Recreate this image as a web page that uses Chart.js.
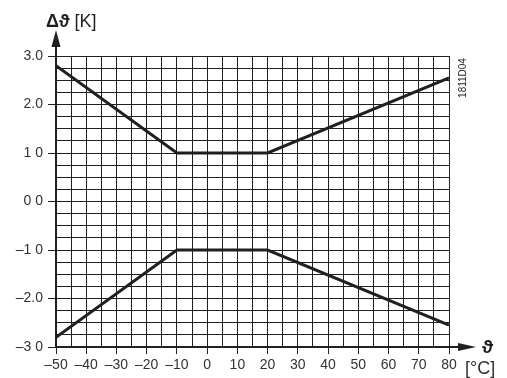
<!DOCTYPE html>
<html><head><meta charset="utf-8">
<script src="https://cdn.jsdelivr.net/npm/chart.js@4"></script>
<style>html,body{margin:0;padding:0;background:#fff;}#wrap{width:507px;height:378px;position:relative;}</style>
</head><body><div id="wrap"><canvas id="c" width="507" height="378"></canvas></div>
<script>
const temps = [-50, -10, 20, 80];
const upperDelta = [2.8, 1.0, 1.0, 2.55];
const lowerDelta = [-2.8, -1.0, -1.0, -2.55];
const xTickValues = [-50, -40, -30, -20, -10, 0, 10, 20, 30, 40, 50, 60, 70, 80];
const xTickLabels = ['\u201350', '\u201340', '\u201330', '\u201320', '\u201310', '0', '10', '20', '30', '40', '50', '60', '70', '80'];
const yTickValues = [3, 2, 1, 0, -1, -2, -3];
const yTickLabels = ['3.0', '2.0', '1 0', '0 0', '\u20131 0', '\u20132.0', '\u20133 0'];

const ink = '#231f20';
const font = "'Liberation Sans', Arial, sans-serif";

function labelFor(vals, labs, v) {
  const i = vals.findIndex(t => Math.abs(t - v) < 1e-6);
  return i < 0 ? '' : labs[i];
}

const decor = {
  id: 'decor',
  afterDraw(chart) {
    const c = chart.ctx, a = chart.chartArea;
    c.save();
    c.fillStyle = ink; c.strokeStyle = ink;
    // y axis arrow
    c.lineWidth = 2;
    c.beginPath(); c.moveTo(a.left, a.top); c.lineTo(a.left, 42); c.stroke();
    c.beginPath(); c.moveTo(a.left, 30); c.lineTo(a.left - 4.5, 47); c.lineTo(a.left + 4.5, 47); c.closePath(); c.fill();
    // x axis arrow
    c.beginPath(); c.moveTo(a.right, a.bottom); c.lineTo(462, a.bottom); c.stroke();
    c.beginPath(); c.moveTo(476, a.bottom); c.lineTo(458, a.bottom - 4); c.lineTo(458, a.bottom + 4); c.closePath(); c.fill();
    // titles
    c.textBaseline = 'alphabetic'; c.textAlign = 'left';
    c.font = 'bold 18px ' + font;
    c.fillText('\u0394\u03d1', 46, 27);
    const w = c.measureText('\u0394\u03d1').width;
    c.font = '18px ' + font;
    c.fillText(' [K]', 46 + w, 27);
    c.font = 'bold 19px ' + font;
    c.fillText('\u03d1', 482, 353);
    c.font = '18px ' + font;
    c.fillStyle = '#333';
    c.fillText('[\u00b0C]', 465, 374);
    // code
    c.fillStyle = ink;
    c.translate(466, 78); c.rotate(-Math.PI / 2);
    c.textAlign = 'center'; c.font = '10px ' + font;
    c.fillText('1811D04', 0, 0);
    c.restore();
  }
};

new Chart(document.getElementById('c'), {
  type: 'scatter',
  data: {
    datasets: [
      { data: temps.map((t, i) => ({ x: t, y: upperDelta[i] })), showLine: true, borderColor: ink, borderWidth: 3, pointRadius: 0, fill: false },
      { data: temps.map((t, i) => ({ x: t, y: lowerDelta[i] })), showLine: true, borderColor: ink, borderWidth: 3, pointRadius: 0, fill: false }
    ]
  },
  options: {
    responsive: false, animation: false,
    layout: { padding: { left: 0, right: 58, top: 56, bottom: 0 } },
    plugins: { legend: { display: false }, tooltip: { enabled: false } },
    scales: {
      x: {
        type: 'linear', min: -50, max: 80,
        afterFit(s) { s.height = 31; },
        afterBuildTicks(s) { const t = []; for (let v = -50; v <= 80; v += 5) t.push({ value: v }); s.ticks = t; },
        ticks: { autoSkip: false, maxRotation: 0, padding: 3, color: '#333', font: { family: font, size: 14 },
          callback: v => labelFor(xTickValues, xTickLabels, v) },
        grid: { color: ink, lineWidth: 1, drawTicks: true, tickLength: 7,
          tickColor: ctx => labelFor(xTickValues, xTickLabels, ctx.tick.value) ? ink : 'rgba(0,0,0,0)' },
        border: { display: true, color: ink, width: 2 }
      },
      y: {
        type: 'linear', min: -3, max: 3,
        afterFit(s) { s.width = 56; },
        afterBuildTicks(s) { const t = []; for (let v = -3; v <= 3.0001; v += 0.25) t.push({ value: Math.round(v * 100) / 100 }); s.ticks = t; },
        ticks: { autoSkip: false, padding: 5, color: '#333', font: { family: font, size: 14 },
          callback: v => labelFor(yTickValues, yTickLabels, v) },
        grid: { color: ink, lineWidth: 1, drawTicks: true, tickLength: 8,
          tickColor: ctx => labelFor(yTickValues, yTickLabels, ctx.tick.value) ? ink : 'rgba(0,0,0,0)' },
        border: { display: true, color: ink, width: 2 }
      }
    }
  },
  plugins: [decor]
});
</script></body></html>
